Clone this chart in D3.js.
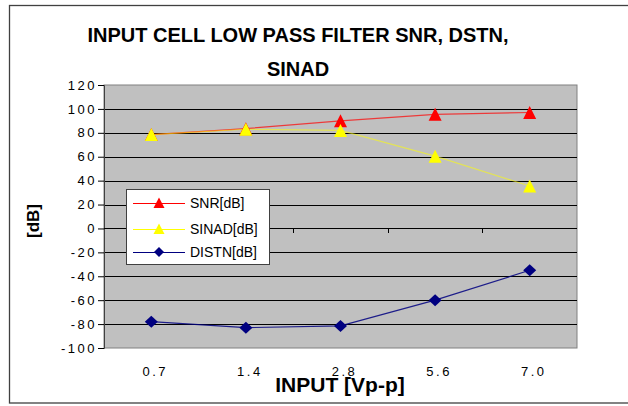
<!DOCTYPE html>
<html><head><meta charset="utf-8">
<script src="https://cdn.jsdelivr.net/npm/d3@7"></script>
<style>
html,body{margin:0;padding:0;background:#fff;}
svg{display:block;}
text{font-family:"Liberation Sans",Arial,sans-serif;}
</style></head>
<body>
<svg id="c" width="628" height="406"></svg>
<script>
const categories = ["0.7","1.4","2.8","5.6","7.0"];
const snr   = [78.5, 83.5, 90, 95.5, 97];
const sinad = [78.5, 83, 82, 60.5, 35.5];
const distn = [-78, -83, -81.5, -60, -35];
const yTicks = [120,100,80,60,40,20,0,-20,-40,-60,-80,-100];
const titleLines = ["INPUT CELL LOW PASS FILTER SNR, DSTN,","SINAD"];
const xTitle = "INPUT [Vp-p]";
const yTitle = "[dB]";
const seriesNames = ["SNR[dB]","SINAD[dB]","DISTN[dB]"];

const svg = d3.select("#c");
const L = 104, R = 577, T = 85, B = 348;

// outer frame
svg.append("rect").attr("x",9.5).attr("y",5.5).attr("width",660).attr("height",397.5)
  .attr("fill","#fff").attr("stroke","#404040").attr("stroke-width",1.3);

const x = d3.scaleBand().domain(categories).range([L,R]).paddingInner(0).paddingOuter(0);
const y = d3.scaleLinear().domain([-100,120]).range([B,T]);

// plot area
svg.append("rect").attr("x",L).attr("y",T).attr("width",R-L).attr("height",B-T)
  .attr("fill","#c0c0c0").attr("stroke","#808080").attr("stroke-width",1);

// gridlines
svg.append("g").selectAll("line").data(yTicks.filter(v=>v!==-100 && v!==120)).join("line")
  .attr("x1",L).attr("x2",R).attr("y1",d=>Math.round(y(d))+0.5).attr("y2",d=>Math.round(y(d))+0.5)
  .attr("stroke","#000").attr("stroke-width",1);

// y axis
const yAxis = d3.axisLeft(y).tickValues(yTicks).tickFormat(d=>String(d)).tickSize(6).tickPadding(3);
const gy = svg.append("g").attr("transform",`translate(${L},0)`).call(yAxis);
gy.select(".domain").attr("stroke","#404040");
gy.selectAll(".tick line").attr("stroke","#000");
gy.selectAll("text").attr("font-size",13).attr("letter-spacing","2.5px").attr("fill","#000")
  .attr("font-family","'Liberation Sans',Arial,sans-serif").attr("dx","2");

// x axis ticks at zero line
const xTickPos = categories.map(c=>x(c)+x.bandwidth()).slice(0,-1);
svg.append("g").selectAll("line").data(xTickPos).join("line")
  .attr("x1",d=>Math.round(d)+0.5).attr("x2",d=>Math.round(d)+0.5)
  .attr("y1",Math.round(y(0))).attr("y2",Math.round(y(0))+5).attr("stroke","#000");
svg.append("line").attr("x1",L).attr("x2",R).attr("y1",Math.round(y(0))+0.5).attr("y2",Math.round(y(0))+0.5).attr("stroke","#000");

// x labels
svg.append("g").selectAll("text").data(categories).join("text")
  .attr("x",d=>x(d)+x.bandwidth()/2+4).attr("y",376).attr("text-anchor","middle")
  .attr("font-size",13).attr("letter-spacing","2.5px").text(d=>d);

// titles
svg.append("text").attr("x",298).attr("y",42).attr("text-anchor","middle")
  .attr("font-size",20).attr("font-weight","bold").text(titleLines[0]);
svg.append("text").attr("x",298).attr("y",76).attr("text-anchor","middle")
  .attr("font-size",20).attr("font-weight","bold").text(titleLines[1]);
svg.append("text").attr("x",340).attr("y",392).attr("text-anchor","middle")
  .attr("font-size",21).attr("font-weight","bold").text(xTitle);
svg.append("text").attr("transform","translate(39,221) rotate(-90)").attr("text-anchor","middle")
  .attr("font-size",17).attr("font-weight","bold").text(yTitle);

// markers
const tri = "M0,-6.5L6.5,6.5L-6.5,6.5Z";
const dia = "M0,-6L6.5,0L0,6L-6.5,0Z";
const series = [
  {name:seriesNames[0], vals:snr, color:"#ff0000", lineColor:"#ff0000", op:0.7, marker:tri},
  {name:seriesNames[1], vals:sinad, color:"#ffff00", lineColor:"#ffff00", op:0.55, marker:tri},
  {name:seriesNames[2], vals:distn, color:"#000080", lineColor:"#000080", op:0.85, marker:dia}
];
const cx = c => x(c)+x.bandwidth()/2;
const line = d3.line().x((d,i)=>cx(categories[i])).y(d=>y(d));
series.forEach(s=>{
  svg.append("path").datum(s.vals).attr("d",line).attr("fill","none")
    .attr("stroke",s.lineColor).attr("stroke-opacity",s.op).attr("stroke-width",1.2);
});
series.forEach(s=>{
  svg.append("g").selectAll("path").data(s.vals).join("path")
    .attr("transform",(d,i)=>`translate(${cx(categories[i])},${y(d)})`)
    .attr("d",s.marker).attr("fill",s.color);
});

// legend
const lg = svg.append("g");
lg.append("rect").attr("x",126.5).attr("y",189.5).attr("width",143).attr("height",75)
  .attr("fill","#fff").attr("stroke","#404040").attr("stroke-width",1);
const ly = [203,229,252];
series.forEach((s,i)=>{
  lg.append("line").attr("x1",133).attr("x2",185).attr("y1",ly[i]+0.5).attr("y2",ly[i]+0.5)
    .attr("stroke",s.lineColor).attr("stroke-width",1.2);
  lg.append("path").attr("transform",`translate(159,${ly[i]})`)
    .attr("d", i<2 ? "M0,-5.5L5.5,5L-5.5,5Z" : "M0,-5L5,0L0,5L-5,0Z").attr("fill",s.color);
  lg.append("text").attr("x",190).attr("y",ly[i]+5).attr("font-size",14).text(s.name);
});
</script>
</body></html>
